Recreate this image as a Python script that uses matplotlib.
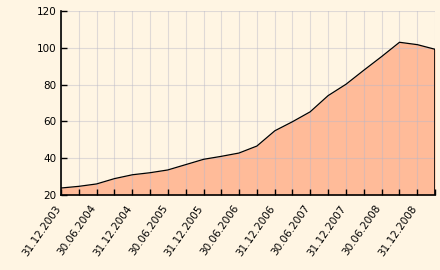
import matplotlib
matplotlib.use('Agg')
import matplotlib.pyplot as plt
import matplotlib.transforms as mtransforms
import pandas as pd

# quarter-end dates and index values
dates = ['2003-12-31', '2004-03-31', '2004-06-30', '2004-09-30', '2004-12-31',
         '2005-03-31', '2005-06-30', '2005-09-30', '2005-12-31', '2006-03-31',
         '2006-06-30', '2006-09-30', '2006-12-31', '2007-03-31', '2007-06-30',
         '2007-09-30', '2007-12-31', '2008-03-31', '2008-06-30', '2008-09-30',
         '2008-12-31', '2009-03-31']
values = [23.8, 24.7, 26.0, 28.9, 31.0,
          32.1, 33.6, 36.5, 39.4, 41.0,
          42.8, 46.6, 54.9, 59.8, 65.2,
          74.0, 80.2, 87.8, 95.2, 103.0,
          101.7, 99.2]
label_dates = ['2003-12-31', '2004-06-30', '2004-12-31', '2005-06-30', '2005-12-31',
               '2006-06-30', '2006-12-31', '2007-06-30', '2007-12-31', '2008-06-30',
               '2008-12-31']
y_ticks = [20, 40, 60, 80, 100, 120]

x = pd.to_datetime(dates)
xl = pd.to_datetime(label_dates)

bg = '#fff5e3'
fig = plt.figure(figsize=(4.4, 2.7), dpi=100, facecolor=bg)
ax = fig.add_axes([61 / 440, 1 - 195 / 270, 374 / 440, 184 / 270], facecolor=bg)

ax.fill_between(x, 20, values, color='#ffbb99', lw=0, zorder=1)
ax.plot(x, values, color='black', lw=0.9, zorder=3)
ax.vlines(x[-1], 20, values[-1], color='black', lw=1.2, zorder=3)

ax.set_xlim(x[0], x[-1])
ax.set_ylim(20, 120)
ax.set_yticks(y_ticks)
ax.set_xticks(x)
ax.set_xticklabels([d.strftime('%d.%m.%Y') if d in xl else '' for d in x])
ax.grid(True, color='#b8b8c8', alpha=0.45, lw=0.8, zorder=2)
ax.set_axisbelow(False)

for s in ['top', 'right']:
    ax.spines[s].set_visible(False)
for s in ['left', 'bottom']:
    ax.spines[s].set_linewidth(1.2)
    ax.spines[s].set_zorder(4)

ax.tick_params(direction='in', length=4, width=1, labelsize=7.5, colors='black', pad=3)
ax.tick_params(axis='x', pad=6)
shift = mtransforms.ScaledTranslation(-0.065, 0, fig.dpi_scale_trans)
for lab in ax.get_xticklabels():
    lab.set_rotation(55)
    lab.set_ha('right')
    lab.set_va('top')
    lab.set_rotation_mode('anchor')
    lab.set_transform(lab.get_transform() + shift)

fig.savefig('out.png', dpi=100, facecolor=bg)
